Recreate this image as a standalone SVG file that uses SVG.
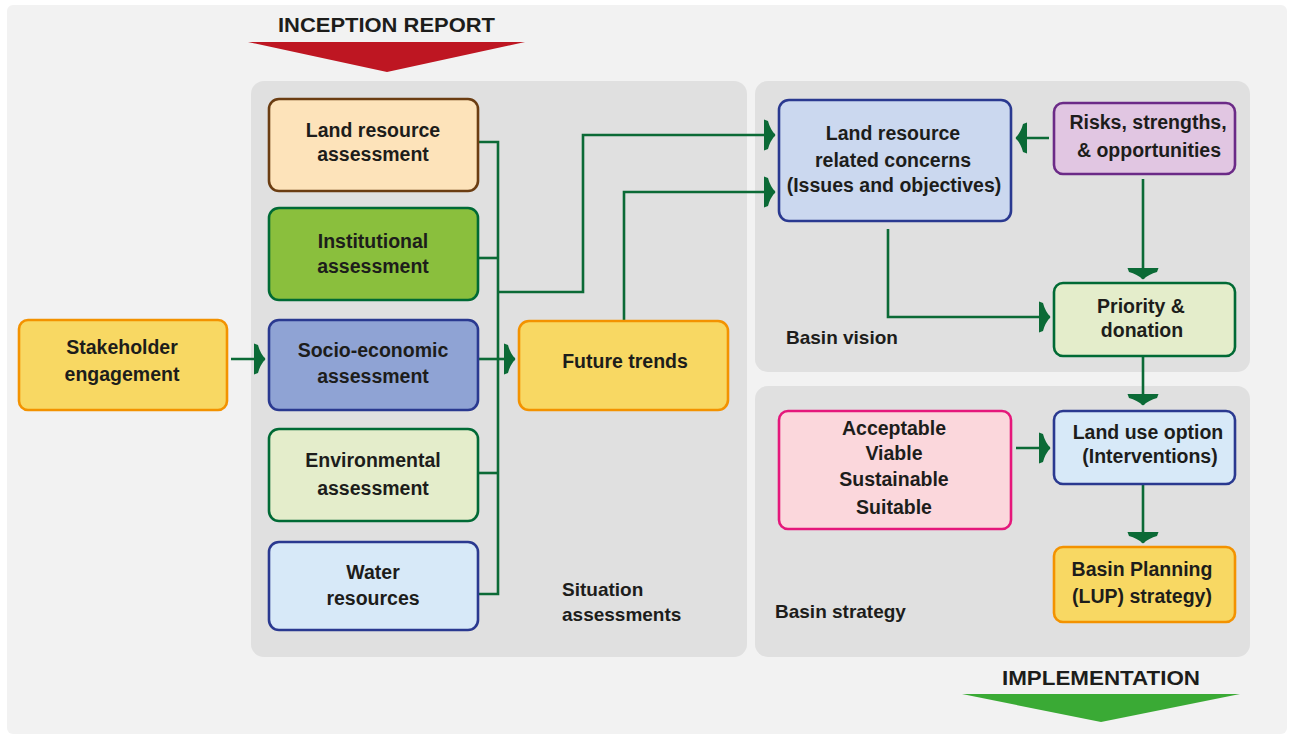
<svg xmlns="http://www.w3.org/2000/svg" width="1290" height="736" viewBox="0 0 1290 736">
<defs>
<style>
.t{font-family:"Liberation Sans",Arial,sans-serif;font-weight:bold;font-size:19.5px;fill:#1d1d1b;text-anchor:middle}
.l{font-family:"Liberation Sans",Arial,sans-serif;font-weight:bold;font-size:19px;fill:#1d1d1b}
.h{font-family:"Liberation Sans",Arial,sans-serif;font-weight:bold;font-size:21px;fill:#1d1d1b}
.panel{fill:#e0e0e0}
.c{fill:none;stroke:#0b6a36;stroke-width:2.6}
.box{stroke-width:2.6}
</style>
<marker id="ah" markerUnits="userSpaceOnUse" viewBox="0 -16 12 32" markerWidth="12" markerHeight="32" refX="11" refY="0" orient="auto">
<path d="M0,-15.5 L4,-14 Q6,-6 11.5,0 Q6,6 4,14 L0,15.5 Z" fill="#0b6a36"/>
</marker>
</defs>
<rect x="0" y="0" width="1290" height="736" fill="#ffffff"/>
<rect x="7" y="5" width="1280" height="729" rx="6" fill="#f2f2f2"/>

<g id="panels">
<rect class="panel" x="251" y="81" width="496" height="576" rx="13"/>
<rect class="panel" x="755" y="81" width="495" height="291" rx="13"/>
<rect class="panel" x="755" y="386" width="495" height="271" rx="13"/>
</g>

<g id="inception">
<text class="h" x="278" y="32" textLength="217" lengthAdjust="spacingAndGlyphs">INCEPTION REPORT</text>
<path d="M248,42 L525,42 L387,72 Z" fill="#be1622"/>
</g>
<g id="implementation">
<text class="h" x="1002" y="685" textLength="198" lengthAdjust="spacingAndGlyphs">IMPLEMENTATION</text>
<path d="M962,694 L1240,694 L1101,722 Z" fill="#3aaa35"/>
</g>

<g id="labels">
<text class="l" x="562" y="596">Situation</text>
<text class="l" x="562" y="621">assessments</text>
<text class="l" x="786" y="344">Basin vision</text>
<text class="l" x="775" y="618">Basin strategy</text>
</g>

<g id="connectors">
<path class="c" d="M231,359 H265" marker-end="url(#ah)"/>
<path class="c" d="M479,142 H498 V594 H479"/>
<path class="c" d="M479,258 H498"/>
<path class="c" d="M479,359 H498"/>
<path class="c" d="M479,473 H498"/>
<path class="c" d="M498,359 H515" marker-end="url(#ah)"/>
<path class="c" d="M498,292 H583 V135 H775" marker-end="url(#ah)"/>
<path class="c" d="M624,320 V192 H775" marker-end="url(#ah)"/>
<path class="c" d="M1049,138 H1016" marker-end="url(#ah)"/>
<path class="c" d="M1143,179 V279" marker-end="url(#ah)"/>
<path class="c" d="M888,229 V317 H1050" marker-end="url(#ah)"/>
<path class="c" d="M1143,357 V405" marker-end="url(#ah)"/>
<path class="c" d="M1016,448 H1050" marker-end="url(#ah)"/>
<path class="c" d="M1143,485 V543" marker-end="url(#ah)"/>
</g>

<g id="stakeholder">
<rect class="box" x="19" y="320" width="208" height="90" rx="9" fill="#f8d863" stroke="#f39200"/>
<text class="t" x="122" y="354">Stakeholder</text>
<text class="t" x="122" y="381">engagement</text>
</g>
<g id="land-resource">
<rect class="box" x="269" y="99" width="209" height="92" rx="10" fill="#fde3ba" stroke="#6b3d12"/>
<text class="t" x="373" y="137">Land resource</text>
<text class="t" x="373" y="161">assessment</text>
</g>
<g id="institutional">
<rect class="box" x="269" y="208" width="209" height="92" rx="10" fill="#8abf3d" stroke="#006a35"/>
<text class="t" x="373" y="248">Institutional</text>
<text class="t" x="373" y="273">assessment</text>
</g>
<g id="socio-economic">
<rect class="box" x="269" y="320" width="209" height="90" rx="10" fill="#8fa3d4" stroke="#2a3990"/>
<text class="t" x="373" y="357">Socio-economic</text>
<text class="t" x="373" y="383">assessment</text>
</g>
<g id="environmental">
<rect class="box" x="269" y="429" width="209" height="92" rx="10" fill="#e4edcb" stroke="#006a35"/>
<text class="t" x="373" y="467">Environmental</text>
<text class="t" x="373" y="495">assessment</text>
</g>
<g id="water">
<rect class="box" x="269" y="542" width="209" height="88" rx="10" fill="#d7e9f8" stroke="#2a3990"/>
<text class="t" x="373" y="579">Water</text>
<text class="t" x="373" y="605">resources</text>
</g>
<g id="future-trends">
<rect class="box" x="519" y="321" width="209" height="89" rx="10" fill="#f8d863" stroke="#f39200"/>
<text class="t" x="625" y="368">Future trends</text>
</g>
<g id="concerns">
<rect class="box" x="779" y="100" width="232" height="121" rx="10" fill="#cbd8ef" stroke="#2a3990"/>
<text class="t" x="893" y="140">Land resource</text>
<text class="t" x="893" y="167">related concerns</text>
<text class="t" x="894" y="192">(Issues and objectives)</text>
</g>
<g id="risks">
<rect class="box" x="1054" y="103" width="181" height="71" rx="9" fill="#e1c6e2" stroke="#6b2a87"/>
<text class="t" x="1148" y="129">Risks, strengths,</text>
<text class="t" x="1149" y="157">&amp; opportunities</text>
</g>
<g id="priority">
<rect class="box" x="1054" y="283" width="181" height="73" rx="9" fill="#e4edcb" stroke="#006a35"/>
<text class="t" x="1141" y="313">Priority &amp;</text>
<text class="t" x="1142" y="337">donation</text>
</g>
<g id="criteria">
<rect class="box" x="779" y="411" width="232" height="118" rx="9" fill="#fbd7dc" stroke="#e5177b"/>
<text class="t" x="894" y="435">Acceptable</text>
<text class="t" x="894" y="460">Viable</text>
<text class="t" x="894" y="486">Sustainable</text>
<text class="t" x="894" y="514">Suitable</text>
</g>
<g id="land-use-option">
<rect class="box" x="1054" y="411" width="181" height="73" rx="9" fill="#d7e9f8" stroke="#2a3990"/>
<text class="t" x="1148" y="439">Land use option</text>
<text class="t" x="1150" y="463">(Interventions)</text>
</g>
<g id="basin-planning">
<rect class="box" x="1054" y="547" width="181" height="75" rx="9" fill="#f8d863" stroke="#f39200"/>
<text class="t" x="1142" y="576">Basin Planning</text>
<text class="t" x="1142" y="603">(LUP) strategy)</text>
</g>
</svg>
